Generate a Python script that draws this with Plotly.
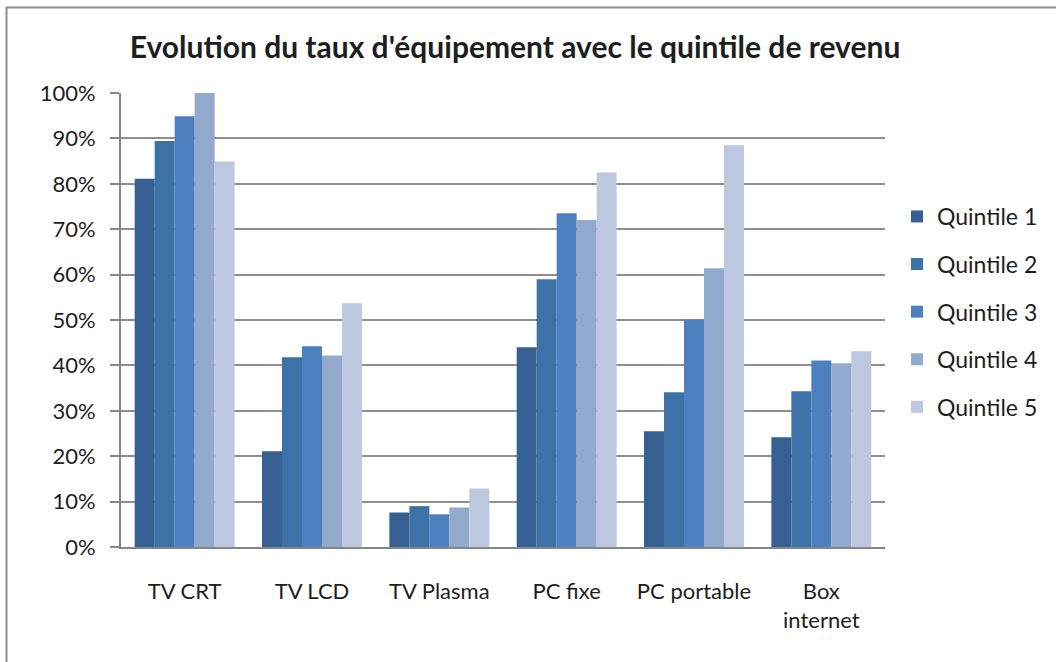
import plotly.graph_objects as go

# Equipment categories and ownership rate (share of households) per income quintile
categories = ["TV CRT", "TV LCD", "TV Plasma", "PC fixe", "PC portable", "Box<br>internet"]
quintiles = ["Quintile 1", "Quintile 2", "Quintile 3", "Quintile 4", "Quintile 5"]
q1 = [0.811, 0.211, 0.076, 0.440, 0.255, 0.242]
q2 = [0.894, 0.418, 0.090, 0.590, 0.341, 0.343]
q3 = [0.949, 0.442, 0.072, 0.735, 0.501, 0.411]
q4 = [1.000, 0.422, 0.087, 0.720, 0.614, 0.405]
q5 = [0.849, 0.537, 0.129, 0.825, 0.885, 0.431]
series = [q1, q2, q3, q4, q5]
colors = ["#366092", "#3D72A7", "#4C80BF", "#93AACF", "#BDC8E0"]

FONT = "Lato, 'Open Sans', sans-serif"
TEXT = "#1e1e1e"
GRID = "#8e8e8e"

W, H = 1056, 662
L, R, T, B = 121, 171, 93, 115
pw, ph = W - L - R, H - T - B

def px_x(p):
    return (p - L) / pw

def px_y(p):
    return (H - B - p) / ph

fig = go.Figure()
for name, vals, col in zip(quintiles, series, colors):
    fig.add_trace(go.Bar(
        x=categories, y=vals, name=name, legendgroup=name,
        marker=dict(color=col, line=dict(width=0)),
    ))

fig.update_layout(
    width=W, height=H,
    margin=dict(l=L, r=R, t=T, b=B),
    paper_bgcolor="white", plot_bgcolor="white",
    barmode="group", bargap=0.215, bargroupgap=0,
    font=dict(family=FONT, size=22, color=TEXT),
    title=dict(
        text="<b>Evolution du taux d'équipement avec le quintile de revenu</b>",
        x=515 / W, xanchor="center", y=1 - 47 / H, yanchor="middle",
        font=dict(family=FONT, size=30, color=TEXT),
    ),
    legend=dict(
        x=px_x(897), xanchor="left", y=px_y(195), yanchor="top",
        font=dict(family=FONT, size=23, color=TEXT),
        tracegroupgap=14.7, bgcolor="rgba(0,0,0,0)",
    ),
    showlegend=True,
    shapes=[dict(
        type="rect", xref="paper", yref="paper",
        x0=px_x(6.5), x1=px_x(1100), y0=px_y(700), y1=px_y(7.5),
        line=dict(color="#8c8c8c", width=2), fillcolor="rgba(0,0,0,0)",
        layer="below",
    )],
)

fig.update_xaxes(
    showline=True, linecolor="#868686", linewidth=2,
    showgrid=False, ticks="", ticklabelstandoff=24,
    tickfont=dict(family=FONT, size=22, color=TEXT),
)
fig.update_yaxes(
    range=[0, 1], dtick=0.1, tickformat=".0%",
    showgrid=True, gridcolor=GRID, gridwidth=2,
    showline=True, linecolor="#868686", linewidth=2,
    ticks="outside", ticklen=9, tickcolor="#868686", tickwidth=2,
    zeroline=False, ticklabelstandoff=10,
    tickfont=dict(family=FONT, size=22, color=TEXT),
)

fig.write_html("out.html")
